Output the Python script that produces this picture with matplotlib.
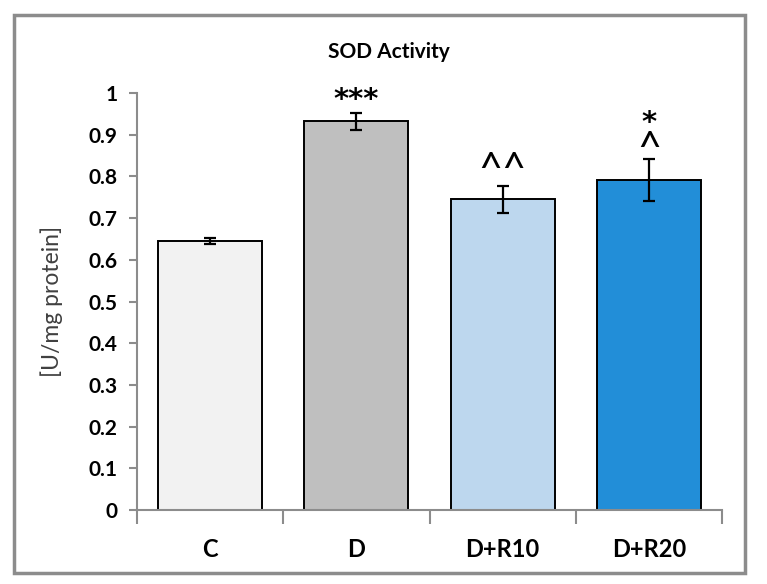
import numpy as np
import matplotlib.pyplot as plt
from matplotlib.patches import Rectangle

# data
groups = ['C', 'D', 'D+R10', 'D+R20']
sod = [0.645, 0.932, 0.745, 0.792]
sod_err = [0.008, 0.020, 0.032, 0.050]
marks = ['', '***', '^^', '^']
marks_top = ['', '', '', '*']
colors = ['#f2f2f2', '#bfbfbf', '#bdd7ee', '#228ed8']

plt.rcParams['font.family'] = ['Lato', 'DejaVu Sans']

fig = plt.figure(figsize=(7.67, 5.84), dpi=100)
ax = fig.add_axes([137/767, 1-510/584, (722-137)/767, (510-93)/584])

x = np.arange(len(groups))
ax.bar(x, sod, width=0.71, color=colors, edgecolor='black', linewidth=1.4, zorder=2)
ax.errorbar(x, sod, yerr=sod_err, fmt='none', ecolor='black', elinewidth=1.6,
            capsize=4.5, capthick=1.6, zorder=3)

# significance marks (baseline placement, offset above the error bar)
star_font = dict(family='DejaVu Sans', fontweight='bold', fontsize=21)
caret_font = dict(family='Lato', fontsize=30)
mark_off = [0, 0.013, 0.006, -0.008]
for i in range(len(groups)):
    top = sod[i] + sod_err[i]
    if marks[i] == '***':
        ax.text(x[i], top + mark_off[i], marks[i], ha='center', va='baseline', **star_font)
    elif marks[i]:
        ax.text(x[i], top + mark_off[i], marks[i], ha='center', va='baseline', **caret_font)
    if marks_top[i]:
        ax.text(x[i], top + 0.066, marks_top[i], ha='center', va='baseline', **star_font)

ax.set_xlim(-0.5, len(groups) - 0.5)
ax.set_ylim(0, 1)
ax.set_yticks(np.arange(0, 1.01, 0.1))
ax.set_yticklabels(['0'] + ['%.1f' % v for v in np.arange(0.1, 0.95, 0.1)] + ['1'])
ax.set_xticks(x)
ax.set_xticklabels(groups)
ax.set_xticks(np.arange(-0.5, len(groups), 1.0), minor=True)

for lab in ax.get_yticklabels() + ax.get_xticklabels():
    lab.set_fontweight('bold')
ax.tick_params(axis='y', labelsize=15, length=6, width=1.5, color='#8c8c8c', pad=8)
ax.tick_params(axis='x', which='major', labelsize=17, length=0, pad=20)
ax.tick_params(axis='x', which='minor', length=10, width=1.5, color='#8c8c8c')

for side in ['top', 'right']:
    ax.spines[side].set_visible(False)
for side in ['left', 'bottom']:
    ax.spines[side].set_color('#8c8c8c')
    ax.spines[side].set_linewidth(1.5)

ax.set_ylabel('[U/mg protein]', fontsize=16.5, color='#404040', labelpad=18)

fig.text(389/767, 1-52/584, 'SOD Activity', ha='center', va='center',
         fontsize=15, fontweight='bold')

# outer chart border
fig.patches.append(Rectangle((14/767, 1-573/584), (745-14)/767, (573-15)/584,
                             transform=fig.transFigure, fill=False,
                             edgecolor='#8c8c8c', linewidth=2.5))

fig.savefig('out.png', dpi=100)
